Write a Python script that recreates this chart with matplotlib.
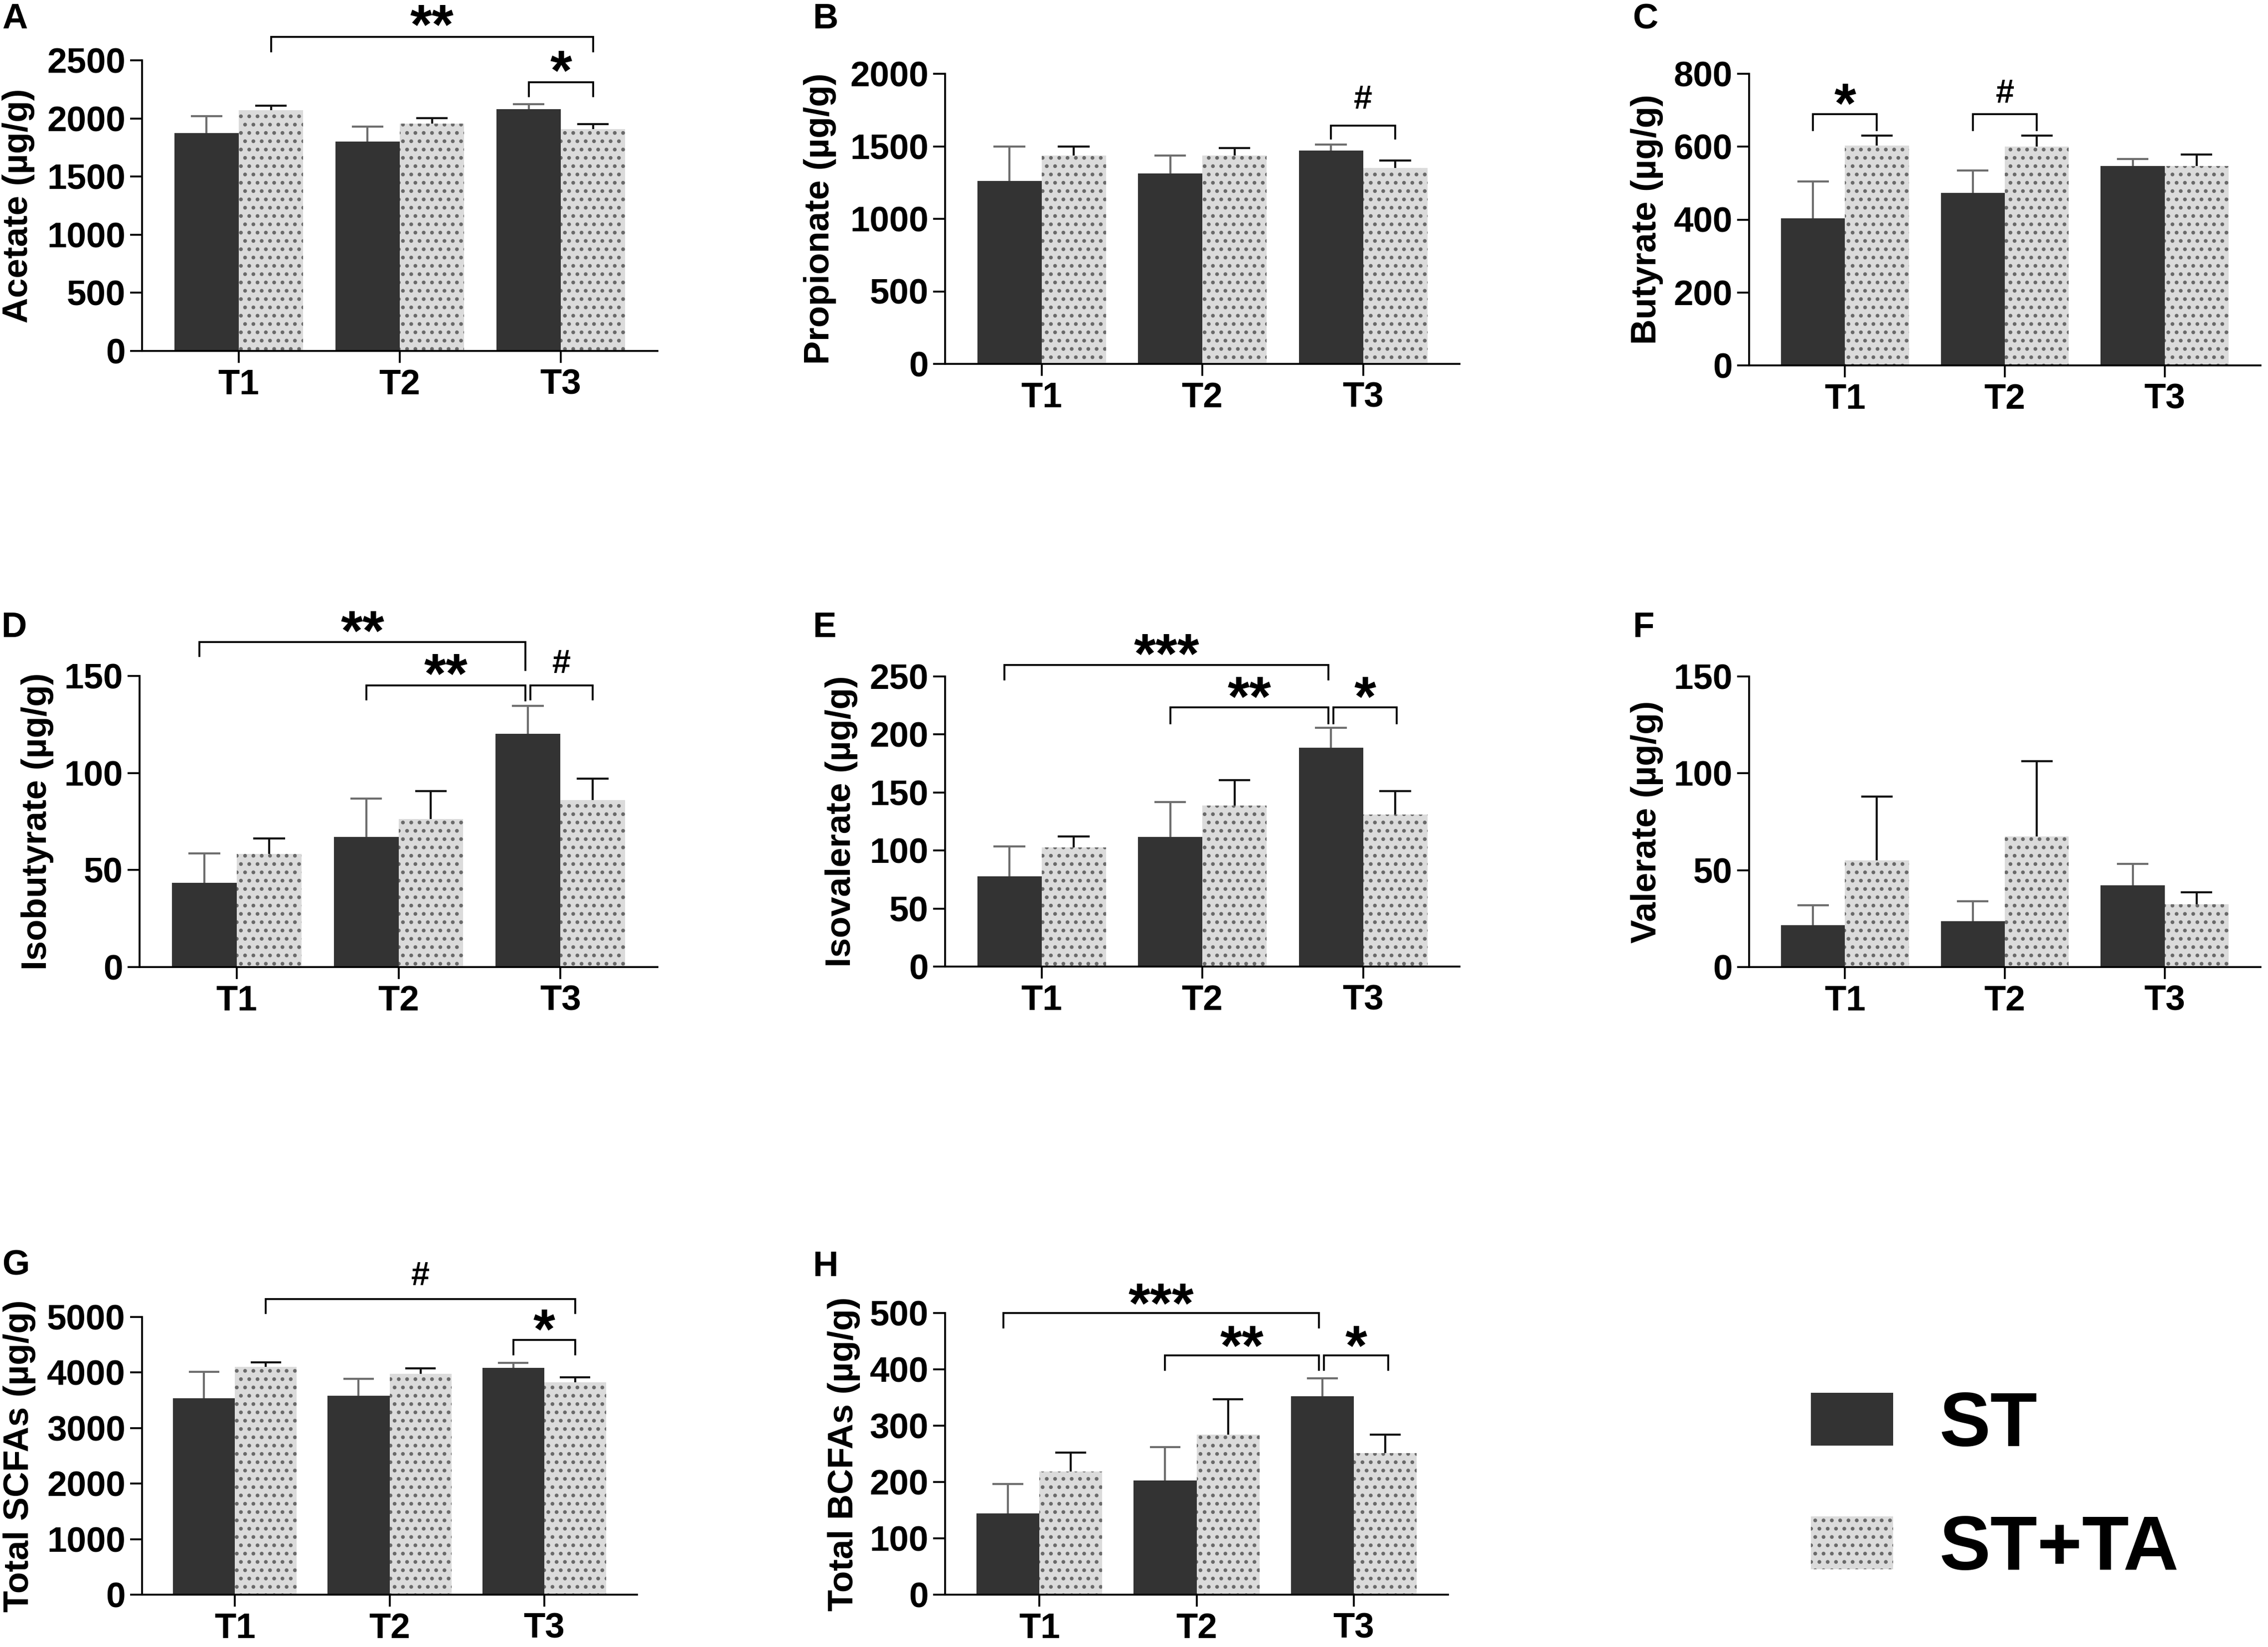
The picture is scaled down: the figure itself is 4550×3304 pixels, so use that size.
import matplotlib
matplotlib.use("Agg")
import matplotlib.pyplot as plt
from matplotlib.patches import Patch
import numpy as np

plt.rcParams['font.family'] = ['Liberation Sans', 'DejaVu Sans']
plt.rcParams['font.weight'] = 'bold'
plt.rcParams['hatch.linewidth'] = 1.0

# %% data (mean, upper error = SD)
times = ["T1", "T2", "T3"]
groups = ["ST", "ST+TA"]

acetate_st = [1875, 1800, 2080]
acetate_st_err = [145, 131, 41]
acetate_ta = [2072, 1955, 1908]
acetate_ta_err = [39, 47, 42]

propionate_st = [1260, 1311, 1470]
propionate_st_err = [238, 127, 42]
propionate_ta = [1438, 1435, 1349]
propionate_ta_err = [60, 53, 54]

butyrate_st = [403, 473, 547]
butyrate_st_err = [101, 62, 19]
butyrate_ta = [603, 600, 547]
butyrate_ta_err = [28, 31, 31]

isobutyrate_st = [43.4, 67.1, 120.1]
isobutyrate_st_err = [15.1, 19.7, 14.4]
isobutyrate_ta = [58.3, 76.4, 86.0]
isobutyrate_ta_err = [8.0, 14.2, 11.1]

isovalerate_st = [77.9, 111.6, 188.7]
isovalerate_st_err = [25.5, 30.3, 16.9]
isovalerate_ta = [102.7, 138.9, 131.0]
isovalerate_ta_err = [9.4, 21.6, 20.0]

valerate_st = [21.5, 23.6, 42.3]
valerate_st_err = [10.4, 10.3, 10.9]
valerate_ta = [55.1, 67.3, 32.4]
valerate_ta_err = [33.0, 39.0, 6.2]

scfa_st = [3537, 3585, 4088]
scfa_st_err = [473, 303, 88]
scfa_ta = [4098, 3980, 3820]
scfa_ta_err = [87, 98, 92]

bcfa_st = [144.2, 202.9, 352.4]
bcfa_st_err = [52.0, 59.1, 31.3]
bcfa_ta = [218.3, 283.7, 251.0]
bcfa_ta_err = [34.1, 62.9, 32.7]

# significance brackets: (x_left, x_right, y_bar, y_leg_left, y_leg_right, label, y_label)
sig_acetate = [(0.2, 2.2, 2703, 2578, 2578, '**', 2912),
               (1.8, 2.2, 2310, 2190, 2190, '*', 2520)]
sig_propionate = [(1.8, 2.2, 1643, 1553, 1553, '#', 1838)]
sig_butyrate = [(-0.2, 0.2, 689, 645, 645, '*', 752),
                (0.8, 1.2, 689, 645, 645, '#', 752)]
sig_isobutyrate = [(-0.23, 1.785, 167.5, 160.4, 153.0, '**', 179.6),
                   (0.8, 1.785, 145.1, 137.9, 137.4, '**', 157.4),
                   (1.815, 2.2, 145.1, 137.9, 137.9, '#', 157.4)]
sig_isovalerate = [(-0.23, 1.785, 259.9, 247.5, 247.5, '***', 280.3),
                   (0.8, 1.785, 223.2, 209.6, 209.6, '**', 243.0),
                   (1.815, 2.21, 223.2, 209.6, 209.6, '*', 243.0)]
sig_valerate = []
sig_scfa = [(0.2, 2.2, 5327, 5073, 5073, '#', 5780),
            (1.8, 2.2, 4585, 4327, 4327, '*', 5000)]
sig_bcfa = [(-0.23, 1.78, 500, 474.5, 474.5, '***', 539.4),
            (0.8, 1.78, 424.5, 399, 399, '**', 464),
            (1.81, 2.22, 424.5, 399, 399, '*', 464)]

W, H = 4550, 3304
DPI = 300

# panel: letter, ylabel, data, ymax, ystep, brackets, axes box in px (L, R, T, B), ylabel offset px
panels = [
    ("A", "Acetate (µg/g)", acetate_st, acetate_st_err, acetate_ta, acetate_ta_err, 2500, 500, sig_acetate, (285, 1319, 121, 704), -215),
    ("B", "Propionate (µg/g)", propionate_st, propionate_st_err, propionate_ta, propionate_ta_err, 2000, 500, sig_propionate, (1896, 2928, 148, 730), -218),
    ("C", "Butyrate (µg/g)", butyrate_st, butyrate_st_err, butyrate_ta, butyrate_ta_err, 800, 200, sig_butyrate, (3509, 4535, 148, 733), -172),
    ("D", "Isobutyrate (µg/g)", isobutyrate_st, isobutyrate_st_err, isobutyrate_ta, isobutyrate_ta_err, 150, 50, sig_isobutyrate, (280, 1319, 1356, 1940), -172),
    ("E", "Isovalerate (µg/g)", isovalerate_st, isovalerate_st_err, isovalerate_ta, isovalerate_ta_err, 250, 50, sig_isovalerate, (1896, 2928, 1357, 1939), -175),
    ("F", "Valerate (µg/g)", valerate_st, valerate_st_err, valerate_ta, valerate_ta_err, 150, 50, sig_valerate, (3509, 4535, 1357, 1940), -172),
    ("G", "Total SCFAs (µg/g)", scfa_st, scfa_st_err, scfa_ta, scfa_ta_err, 5000, 1000, sig_scfa, (285, 1278, 2642, 3199), -213),
    ("H", "Total BCFAs (µg/g)", bcfa_st, bcfa_st_err, bcfa_ta, bcfa_ta_err, 500, 100, sig_bcfa, (1896, 2905, 2634, 3199), -170),
]
letter_pos = {"A": (4, 57), "B": (1630, 57), "C": (3275, 57),
              "D": (2, 1278), "E": (1630, 1278), "F": (3275, 1278),
              "G": (4, 2558), "H": (1630, 2560)}

ST_COLOR = '#333333'
TA_COLOR = '#dbdbdb'
DOT_COLOR = '#6a6a6a'
FS = 17

fig = plt.figure(figsize=(W / DPI, H / DPI), dpi=DPI)


def sig_label(ax, x, y, s):
    if '*' in s:
        fs, off = 27, -0.56
    else:
        fs, off = 16, -0.345
    ax.annotate(s, (x, y), xytext=(0, off * fs), textcoords='offset points',
                ha='center', va='baseline', fontsize=fs, fontweight='bold',
                annotation_clip=False)


for letter, ylab, st, st_err, ta, ta_err, ymax, ystep, sigs, box, yoff in panels:
    L, R, T, B = box
    ax = fig.add_axes([L / W, 1 - B / H, (R - L) / W, (B - T) / H])
    x = np.arange(len(times))
    st = np.array(st); ta = np.array(ta)
    st_err = np.array(st_err); ta_err = np.array(ta_err)

    ax.bar(x - 0.2, st, width=0.4, color=ST_COLOR, linewidth=0, zorder=2)
    ax.bar(x + 0.2, ta, width=0.4, color=TA_COLOR, hatch='...',
           edgecolor=DOT_COLOR, linewidth=0, zorder=2)

    # upper-only error bars
    ax.vlines(x - 0.2, st, st + st_err, color='#6e6e6e', lw=1.0, zorder=3)
    ax.hlines(st + st_err, x - 0.2 - 0.098, x - 0.2 + 0.098, color='#6e6e6e', lw=1.0, zorder=3)
    ax.vlines(x + 0.2, ta, ta + ta_err, color='#111111', lw=1.0, zorder=3)
    ax.hlines(ta + ta_err, x + 0.2 - 0.098, x + 0.2 + 0.098, color='#111111', lw=1.0, zorder=3)

    for x1, x2, yb, l1, l2, s, ys in sigs:
        ax.plot([x1, x1, x2, x2], [l1, yb, yb, l2], color='black', lw=0.9,
                clip_on=False, solid_joinstyle='miter')
        sig_label(ax, (x1 + x2) / 2, ys, s)

    ax.set_xlim(-0.6, 2.6)
    ax.set_ylim(0, ymax)
    ax.set_yticks(np.arange(0, ymax + ystep / 2, ystep))
    ax.set_xticks(x)
    ax.set_xticklabels(times)
    for sp in ['top', 'right']:
        ax.spines[sp].set_visible(False)
    ax.spines['left'].set_bounds(0, ymax)
    ax.spines['left'].set_linewidth(0.9)
    ax.spines['bottom'].set_linewidth(0.9)
    ax.tick_params(axis='both', direction='out', length=5.8, width=0.9, labelsize=FS)
    ax.tick_params(axis='y', pad=2.2)
    ax.tick_params(axis='x', pad=2.8)
    ax.set_ylabel(ylab, fontsize=FS, fontweight='bold')
    ax.yaxis.set_label_coords(yoff / (R - L), 0.5)

    lx, ly = letter_pos[letter]
    fig.text(lx / W, 1 - ly / H, letter, fontsize=FS, fontweight='bold',
             ha='left', va='baseline')

handles = [Patch(facecolor=ST_COLOR, linewidth=0),
           Patch(facecolor=TA_COLOR, hatch='...', edgecolor=DOT_COLOR, linewidth=0)]
fig.legend(handles, groups, loc='center left',
           bbox_to_anchor=(3633 / W, 1 - 2985 / H), frameon=False,
           prop={'size': 37, 'weight': 'bold'}, handlelength=1.07,
           handleheight=0.68, handletextpad=0.6, labelspacing=0.68,
           borderpad=0, borderaxespad=0)

fig.savefig("out.png", dpi=DPI)
